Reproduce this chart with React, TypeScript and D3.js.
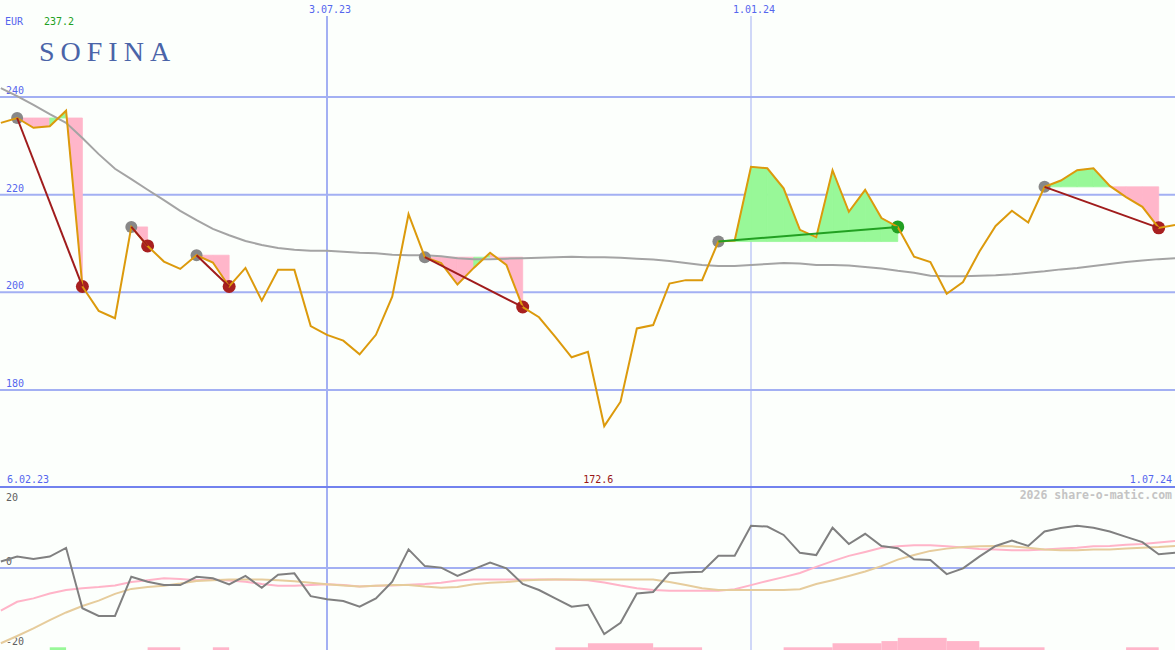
import React from "react";
import * as d3 from "d3";

// weekly closes, 13 Feb 2023 .. 1 Jul 2024
const START = new Date(Date.UTC(2023, 1, 13));
const dates = d3.range(73).map((i) => d3.utcDay.offset(START, 7 * i));

const price = [
  234.7, 235.7, 233.7, 234.0, 237.2, 201.2, 196.2, 194.7, 213.4, 209.5,
  206.3, 204.8, 207.6, 206.1, 201.2, 205.0, 198.3, 204.6, 204.6, 193.1,
  191.3, 190.1, 187.3, 191.3, 199.1, 216.0, 207.2, 206.0, 201.6, 205.0,
  208.1, 205.6, 197.0, 194.9, 190.9, 186.7, 187.8, 172.6, 177.6, 192.6,
  193.3, 201.8, 202.5, 202.5, 210.4, 210.6, 225.7, 225.4, 221.3, 212.8,
  211.3, 225.0, 216.5, 221.0, 215.2, 213.4, 207.3, 206.2, 199.7, 202.1,
  208.3, 213.6, 216.7, 214.3, 221.6, 222.9, 225.0, 225.4, 221.8, 219.5,
  217.5, 213.2, 213.8,
];

const priceMA = [
  241.8, 240.2, 238.4, 236.5, 234.7, 231.6, 228.3, 225.3, 223.2, 221.0,
  218.9, 216.7, 214.8, 213.0, 211.7, 210.5, 209.7, 209.1, 208.7, 208.5,
  208.5, 208.3, 208.1, 208.0, 207.7, 207.6, 207.6, 207.4, 207.0, 206.8,
  206.8, 206.9, 207.0, 207.1, 207.2, 207.3, 207.2, 207.2, 207.1, 206.9,
  206.7, 206.4, 206.0, 205.6, 205.4, 205.4, 205.6, 205.8, 206.0, 205.9,
  205.6, 205.6, 205.5, 205.2, 204.9, 204.4, 204.0, 203.4, 203.3, 203.3,
  203.4, 203.5, 203.7, 204.0, 204.3, 204.7, 205.0, 205.4, 205.8, 206.2,
  206.5, 206.8, 207.0,
];

const momentum = [
  1.7, 3.0, 2.4, 3.0, 5.3, -10.6, -12.6, -12.6, -2.3, -3.6,
  -4.5, -4.5, -2.3, -2.7, -4.3, -2.1, -5.2, -1.8, -1.4, -7.4,
  -8.2, -8.7, -10.2, -8.0, -3.6, 4.9, 0.5, 0.1, -2.1, -0.3,
  1.4, -0.1, -4.2, -5.8, -8.0, -10.2, -9.7, -17.4, -14.4, -6.7,
  -6.3, -1.4, -1.1, -1.0, 3.2, 3.2, 11.1, 10.9, 8.7, 4.0,
  3.4, 10.6, 6.3, 9.0, 5.8, 5.2, 2.3, 2.1, -1.6, -0.1,
  3.0, 5.8, 7.2, 5.8, 9.6, 10.5, 11.1, 10.6, 9.6, 8.2,
  6.8, 3.6, 4.0,
];

const momentumFast = [
  -11.2, -8.9, -8.0, -6.7, -5.8, -5.3, -5.0, -4.6, -3.7, -3.2,
  -2.7, -2.9, -3.2, -3.0, -3.3, -3.6, -4.2, -4.7, -4.7, -4.5,
  -4.3, -4.5, -4.9, -4.7, -4.6, -4.4, -4.2, -3.9, -3.3, -3.0,
  -3.0, -3.0, -3.0, -3.0, -3.0, -3.1, -3.2, -3.8, -4.6, -5.3,
  -5.8, -6.0, -6.0, -6.0, -6.0, -5.6, -4.5, -3.4, -2.4, -1.3,
  0.3, 1.8, 3.2, 4.2, 5.3, 5.7, 6.0, 6.0, 5.7, 5.4,
  5.0, 4.9, 4.7, 4.7, 4.9, 5.1, 5.3, 5.7, 5.8, 6.1,
  6.3, 6.7, 7.1,
];

const momentumSlow = [
  -19.8, -17.9, -15.9, -13.7, -11.7, -10.0, -8.6, -6.8, -5.5, -5.0,
  -4.7, -4.1, -3.4, -3.2, -3.0, -3.0, -3.0, -3.2, -3.5, -3.9,
  -4.3, -4.6, -4.9, -4.7, -4.5, -4.5, -4.9, -5.2, -5.0, -4.3,
  -3.9, -3.7, -3.3, -3.1, -3.0, -3.0, -3.0, -3.0, -3.0, -3.0,
  -3.0, -3.7, -4.5, -5.3, -5.8, -5.8, -5.8, -5.8, -5.8, -5.6,
  -4.2, -3.2, -2.1, -0.9, 0.5, 2.2, 3.4, 4.5, 5.1, 5.5,
  5.7, 5.8, 5.7, 5.3, 4.9, 4.7, 4.7, 4.9, 4.9, 5.1,
  5.3, 5.5, 5.8,
];

// trade signals: start index, end index, gain?
const signalStart = [1, 8, 12, 26, 44, 64];
const signalEnd = [5, 9, 14, 32, 55, 71];
const signalWin = [false, false, false, false, true, false];

// strength bars at the bottom: from index, to index, level, positive?
const barFrom = [3, 9, 13, 34, 36, 40, 48, 51, 54, 55, 58, 60, 69];
const barTo = [4, 11, 14, 36, 40, 43, 51, 54, 55, 58, 60, 64, 71];
const barLevel = [1, 1, 1, 1, 2.5, 1, 1, 2.5, 3.3, 4.5, 3.3, 1, 1];
const barPositive = [true, false, false, false, false, false, false, false, false, false, false, false, false];

const priceTicks = [240, 220, 200, 180];
const momentumTicks = [20, 0, -20];
const dateMarks = [
  { date: new Date(Date.UTC(2023, 6, 3)), label: "3.07.23", width: 2 },
  { date: new Date(Date.UTC(2024, 0, 1)), label: "1.01.24", width: 1 },
];

const GRID = "#a3b0f3";
const LABEL = "#5566ee";
const MONO = "'DejaVu Sans Mono', 'Liberation Mono', monospace";

export default function App() {
  const W = 1175;
  const H = 650;
  const x = d3
    .scaleUtc()
    .domain([new Date(Date.UTC(2023, 6, 3)), new Date(Date.UTC(2024, 0, 1))])
    .range([327, 751]);
  const y = d3.scaleLinear().domain([180, 240]).range([390, 97]);
  const y2 = d3.scaleLinear().domain([-20, 20]).range([644, 492]);
  const yb = d3.scaleLinear().domain([0, 5]).range([650, 636.5]);

  const idx = d3.range(dates.length);
  const lineOf = (arr: number[], ys: d3.ScaleLinear<number, number>) =>
    d3
      .line<number>()
      .x((i) => x(dates[i]))
      .y((i) => ys(arr[i]))(idx) || "";

  const maxI = d3.maxIndex(price);
  const minI = d3.minIndex(price);

  // shaded areas of each signal
  const fills: { d: string; c: string }[] = [];
  signalStart.forEach((s, k) => {
    const e = signalEnd[k];
    const L = price[s];
    for (let i = s; i < e; i++) {
      const pts: [number, number][] = [
        [x(dates[i]), y(L)],
        [x(dates[i]), y(price[i])],
        [x(dates[i + 1]), y(price[i + 1])],
        [x(dates[i + 1]), y(L)],
      ];
      fills.push({
        d: "M" + pts.map((p) => p.join(",")).join("L") + "Z",
        c: price[i + 1] > L ? "#98f898" : "#ffb6ca",
      });
    }
  });

  return (
    <svg
      width={W}
      height={H}
      style={{ position: "absolute", left: 0, top: 0, background: "#fcfffc" }}
    >
      <rect x={0} y={0} width={W} height={H} fill="#fcfffc" />
      {/* header */}
      <text x={5} y={25} fontFamily={MONO} fontSize={10} fill={LABEL}>EUR</text>
      <text x={44} y={25} fontFamily={MONO} fontSize={10} fill="#22a022">
        {price[maxI].toFixed(1)}
      </text>
      <text
        x={39}
        y={61}
        fontFamily="'Liberation Serif', 'DejaVu Serif', serif"
        fontSize={28}
        letterSpacing={6}
        fill="#4a64a8"
      >
        SOFINA
      </text>

      {/* vertical date lines */}
      {dateMarks.map((m) => (
        <g key={m.label}>
          <line
            x1={x(m.date)}
            x2={x(m.date)}
            y1={16}
            y2={H}
            stroke={GRID}
            strokeWidth={m.width}
          />
          <text
            x={x(m.date) + 3}
            y={13}
            textAnchor="middle"
            fontFamily={MONO}
            fontSize={10}
            fill={LABEL}
          >
            {m.label}
          </text>
        </g>
      ))}

      {/* price grid */}
      {priceTicks.map((t) => (
        <g key={t}>
          <line x1={0} x2={W} y1={y(t)} y2={y(t)} stroke={GRID} strokeWidth={2} />
          <text x={6} y={y(t) - 3} fontFamily={MONO} fontSize={10} fill={LABEL}>
            {t}
          </text>
        </g>
      ))}

      {/* signal areas */}
      {fills.map((f, i) => (
        <path key={i} d={f.d} fill={f.c} stroke={f.c} strokeWidth={0.8} strokeLinejoin="round" />
      ))}

      {/* moving average */}
      <path d={lineOf(priceMA, y)} fill="none" stroke="#a4a4a4" strokeWidth={2} />

      {/* signal circles */}
      {signalStart.map((s, k) => (
        <g key={"c" + k}>
          <circle cx={x(dates[s])} cy={y(price[s])} r={6} fill="#888888" />
          <circle
            cx={x(dates[signalEnd[k]])}
            cy={y(price[signalEnd[k]])}
            r={6.5}
            fill={signalWin[k] ? "#22a022" : "#a82020"}
          />
        </g>
      ))}

      {/* price line */}
      <path d={lineOf(price, y)} fill="none" stroke="#dc9a0c" strokeWidth={2} />

      {/* signal lines */}
      {signalStart.map((s, k) => (
        <line
          key={"l" + k}
          x1={x(dates[s])}
          y1={y(price[s])}
          x2={x(dates[signalEnd[k]])}
          y2={y(price[signalEnd[k]])}
          stroke={signalWin[k] ? "#22a022" : "#a01c1c"}
          strokeWidth={2}
        />
      ))}

      {/* separator & bottom labels */}
      <line x1={0} x2={W} y1={487} y2={487} stroke="#7282ee" strokeWidth={2} />
      <text x={7} y={483} fontFamily={MONO} fontSize={10} fill={LABEL}>6.02.23</text>
      <text x={1172} y={483} textAnchor="end" fontFamily={MONO} fontSize={10} fill={LABEL}>
        1.07.24
      </text>
      <text
        x={x(dates[minI]) - 6}
        y={483}
        textAnchor="middle"
        fontFamily={MONO}
        fontSize={10}
        fill="#991515"
      >
        {price[minI].toFixed(1)}
      </text>
      <text
        x={1172}
        y={499}
        textAnchor="end"
        fontFamily={MONO}
        fontSize={11.5}
        fontWeight="bold"
        fill="#c4c4c4"
      >
        2026 share-o-matic.com
      </text>

      {/* momentum panel */}
      <line x1={0} x2={W} y1={y2(0)} y2={y2(0)} stroke={GRID} strokeWidth={2} />
      {momentumTicks.map((t) => (
        <text
          key={t}
          x={6}
          y={t === 20 ? y2(t) + 9 : t === 0 ? y2(t) - 3 : y2(t) + 1}
          fontFamily={MONO}
          fontSize={10}
          fill="#606060"
        >
          {t}
        </text>
      ))}
      {barFrom.map((b, k) => (
        <rect
          key={"b" + k}
          x={x(dates[b])}
          width={x(dates[barTo[k]]) - x(dates[b])}
          y={yb(barLevel[k])}
          height={yb(0) - yb(barLevel[k])}
          fill={barPositive[k] ? "#98f898" : "#ffb6ca"}
        />
      ))}
      <path d={lineOf(momentumFast, y2)} fill="none" stroke="#ffb4c8" strokeWidth={2} />
      <path d={lineOf(momentumSlow, y2)} fill="none" stroke="#e6cc9c" strokeWidth={2} />
      <path d={lineOf(momentum, y2)} fill="none" stroke="#808080" strokeWidth={2} />
    </svg>
  );
}
